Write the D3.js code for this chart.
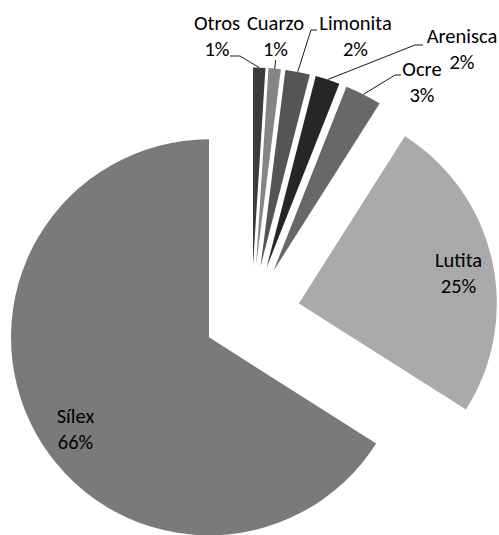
<!DOCTYPE html>
<html>
<head>
<meta charset="utf-8">
<script src="https://cdn.jsdelivr.net/npm/d3@7"></script>
<style>
  html, body { margin: 0; padding: 0; background: #fff; }
  svg { display: block; }
  text { font-family: Carlito, Lato, "Open Sans", sans-serif; fill: #000; }
</style>
</head>
<body>
<svg id="chart" width="499" height="535"></svg>
<script>
// ---- data ----
const categories = ["Otros", "Cuarzo", "Limonita", "Arenisca", "Ocre", "Lutita", "Sílex"];
const values = [1, 1, 2, 2, 3, 25, 66];
const percentLabels = ["1%", "1%", "2%", "2%", "3%", "25%", "66%"];

// ---- styles ----
const colors = ["#3b3b3b", "#858585", "#555555", "#262626", "#686868", "#aaaaaa", "#7a7a7a"];

// ---- layout ----
const W = 499, H = 535;
const center = [251.5, 314];
const radius = 198;
const explode = 48.5;
const fontSize = 20.5;
const lineGap = 26;
// label anchor: center x, baseline of first line
const labelAnchors = [
  [217, 29.5], [275.5, 29.5], [355.5, 29.5], [462, 43], [422, 76], [458.5, 266.5], [75.5, 422.5]
];
// leader elbows; each is list of points after the slice edge
const leaderPaths = [
  [[240, 56], [230, 56]],
  [[275.7, 60]],
  [[311, 30], [317, 30]],
  [[415, 45], [423, 45]],
  [[395, 75], [401, 75]],
  null,
  null
];

const data = categories.map((c, i) => ({ name: c, value: values[i], pct: percentLabels[i], color: colors[i], i }));

const svg = d3.select("#chart");
const pie = d3.pie().sort(null).value(d => d.value).startAngle(0).endAngle(2 * Math.PI);
const arc = d3.arc().innerRadius(0).outerRadius(radius);
const arcs = pie(data);

const g = svg.append("g").attr("transform", `translate(${center[0]},${center[1]})`);

function offset(a) {
  const mid = (a.startAngle + a.endAngle) / 2;
  return [explode * Math.sin(mid), -explode * Math.cos(mid)];
}

g.selectAll("path.slice")
  .data(arcs)
  .join("path")
  .attr("class", "slice")
  .attr("d", arc)
  .attr("fill", d => d.data.color)
  .attr("transform", d => { const o = offset(d); return `translate(${o[0]},${o[1]})`; });

// leader lines: from outer arc midpoint of the exploded slice to label elbow
const line = d3.line();
arcs.forEach((a, i) => {
  const lp = leaderPaths[i];
  if (!lp) return;
  const mid = (a.startAngle + a.endAngle) / 2;
  const o = offset(a);
  const sx = center[0] + o[0] + radius * Math.sin(mid);
  const sy = center[1] + o[1] - radius * Math.cos(mid);
  svg.append("path")
    .attr("d", line([[sx, sy], ...lp]))
    .attr("fill", "none")
    .attr("stroke", "#1a1a1a")
    .attr("stroke-width", 1);
});

// labels
const labels = svg.selectAll("text.lbl")
  .data(arcs)
  .join("text")
  .attr("class", "lbl")
  .attr("text-anchor", "middle")
  .style("font-size", fontSize + "px");
labels.append("tspan")
  .attr("x", d => labelAnchors[d.index][0])
  .attr("y", d => labelAnchors[d.index][1])
  .text(d => d.data.name);
labels.append("tspan")
  .attr("x", d => labelAnchors[d.index][0])
  .attr("y", d => labelAnchors[d.index][1] + lineGap)
  .text(d => d.data.pct);
</script>
</body>
</html>
